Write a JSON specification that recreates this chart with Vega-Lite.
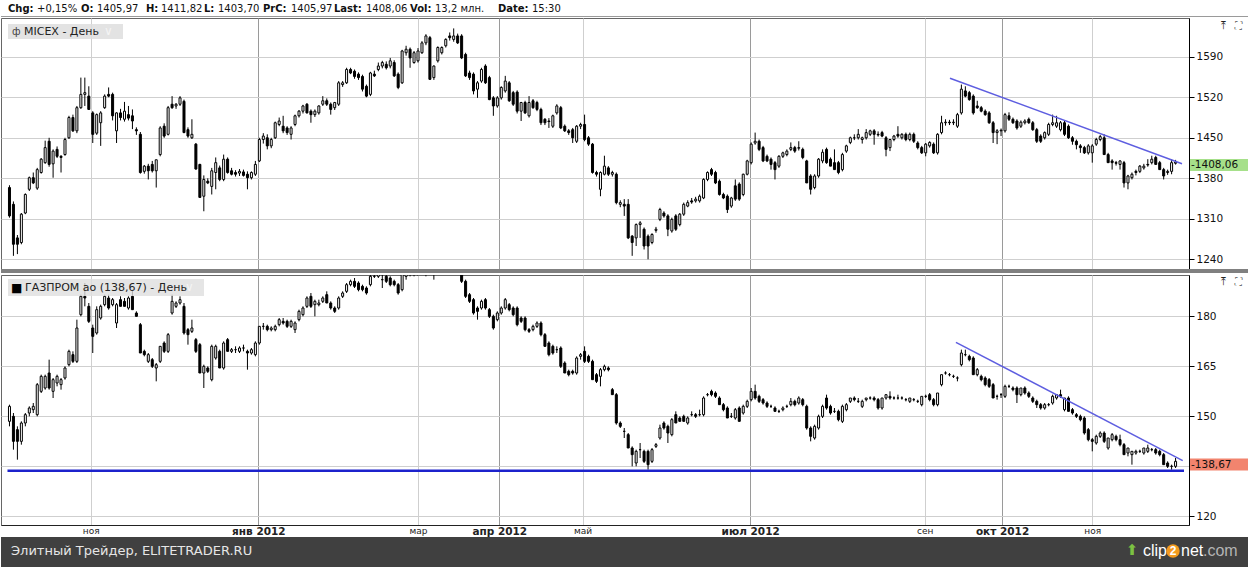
{
"$schema": "https://vega.github.io/schema/vega-lite/v6.json",
"padding": 0,
"spacing": 0,
"background": "#ffffff",
"config": {"font": "DejaVu Sans", "view": {"stroke": "#666666", "strokeWidth": 1}, "concat": {"spacing": 0}},
"datasets": {
"micex": [
{"i":0,"o":1364,"h":1368,"l":1312,"c":1315},{"i":1,"o":1335,"h":1340,"l":1246,"c":1266},{"i":2,"o":1277,"h":1282,"l":1249,"c":1266},{"i":3,"o":1269,"h":1320,"l":1266,"c":1318},{"i":4,"o":1320,"h":1354,"l":1318,"c":1352},{"i":5,"o":1361,"h":1383,"l":1358,"c":1381},{"i":6,"o":1381,"h":1390,"l":1370,"c":1372},{"i":7,"o":1363,"h":1398,"l":1360,"c":1395},{"i":8,"o":1390,"h":1415,"l":1388,"c":1413},{"i":9,"o":1407,"h":1445,"l":1405,"c":1433},
{"i":10,"o":1444,"h":1450,"l":1400,"c":1404},{"i":11,"o":1405,"h":1430,"l":1381,"c":1427},{"i":12,"o":1430,"h":1435,"l":1415,"c":1418},{"i":13,"o":1418,"h":1420,"l":1390,"c":1416},{"i":14,"o":1421,"h":1450,"l":1419,"c":1447},{"i":15,"o":1450,"h":1488,"l":1448,"c":1485},{"i":16,"o":1485,"h":1490,"l":1460,"c":1462},{"i":17,"o":1462,"h":1505,"l":1458,"c":1502},{"i":18,"o":1502,"h":1554,"l":1500,"c":1525},{"i":19,"o":1525,"h":1554,"l":1505,"c":1528},
{"i":20,"o":1522,"h":1539,"l":1498,"c":1499},{"i":21,"o":1493,"h":1496,"l":1441,"c":1456},{"i":22,"o":1458,"h":1492,"l":1455,"c":1490},{"i":23,"o":1476,"h":1496,"l":1436,"c":1493},{"i":24,"o":1502,"h":1525,"l":1500,"c":1522},{"i":25,"o":1525,"h":1537,"l":1520,"c":1522},{"i":26,"o":1525,"h":1528,"l":1480,"c":1488},{"i":27,"o":1462,"h":1494,"l":1441,"c":1493},{"i":28,"o":1493,"h":1500,"l":1480,"c":1485},{"i":29,"o":1482,"h":1512,"l":1478,"c":1496},
{"i":30,"o":1490,"h":1505,"l":1480,"c":1484},{"i":31,"o":1488,"h":1499,"l":1465,"c":1479},{"i":32,"o":1464,"h":1468,"l":1455,"c":1462},{"i":33,"o":1456,"h":1460,"l":1388,"c":1390},{"i":34,"o":1392,"h":1403,"l":1388,"c":1401},{"i":35,"o":1401,"h":1405,"l":1378,"c":1393},{"i":36,"o":1404,"h":1410,"l":1390,"c":1393},{"i":37,"o":1393,"h":1412,"l":1364,"c":1412},{"i":38,"o":1421,"h":1470,"l":1418,"c":1467},{"i":39,"o":1470,"h":1475,"l":1450,"c":1453},
{"i":40,"o":1456,"h":1505,"l":1454,"c":1502},{"i":41,"o":1508,"h":1522,"l":1500,"c":1502},{"i":42,"o":1505,"h":1510,"l":1500,"c":1508},{"i":43,"o":1508,"h":1522,"l":1505,"c":1519},{"i":44,"o":1513,"h":1516,"l":1458,"c":1459},{"i":45,"o":1464,"h":1468,"l":1450,"c":1453},{"i":46,"o":1450,"h":1482,"l":1448,"c":1456},{"i":47,"o":1439,"h":1441,"l":1395,"c":1396},{"i":48,"o":1404,"h":1405,"l":1346,"c":1347},{"i":49,"o":1349,"h":1385,"l":1323,"c":1378},
{"i":50,"o":1375,"h":1380,"l":1370,"c":1372},{"i":51,"o":1366,"h":1398,"l":1352,"c":1393},{"i":52,"o":1390,"h":1416,"l":1361,"c":1407},{"i":53,"o":1398,"h":1402,"l":1375,"c":1378},{"i":54,"o":1378,"h":1421,"l":1375,"c":1413},{"i":55,"o":1413,"h":1416,"l":1388,"c":1390},{"i":56,"o":1393,"h":1398,"l":1385,"c":1387},{"i":57,"o":1390,"h":1394,"l":1383,"c":1387},{"i":58,"o":1389,"h":1396,"l":1384,"c":1392},{"i":59,"o":1391,"h":1395,"l":1383,"c":1385},
{"i":60,"o":1387,"h":1392,"l":1361,"c":1381},{"i":61,"o":1381,"h":1392,"l":1378,"c":1390},{"i":62,"o":1387,"h":1410,"l":1384,"c":1404},{"i":63,"o":1410,"h":1450,"l":1408,"c":1447},{"i":64,"o":1447,"h":1458,"l":1440,"c":1453},{"i":65,"o":1450,"h":1456,"l":1430,"c":1436},{"i":66,"o":1436,"h":1450,"l":1432,"c":1447},{"i":67,"o":1450,"h":1478,"l":1448,"c":1476},{"i":68,"o":1473,"h":1485,"l":1470,"c":1479},{"i":69,"o":1470,"h":1488,"l":1458,"c":1462},
{"i":70,"o":1467,"h":1470,"l":1455,"c":1459},{"i":71,"o":1456,"h":1470,"l":1447,"c":1467},{"i":72,"o":1473,"h":1490,"l":1470,"c":1488},{"i":73,"o":1488,"h":1498,"l":1485,"c":1496},{"i":74,"o":1496,"h":1507,"l":1492,"c":1505},{"i":75,"o":1508,"h":1510,"l":1492,"c":1493},{"i":76,"o":1496,"h":1499,"l":1476,"c":1490},{"i":77,"o":1490,"h":1499,"l":1486,"c":1496},{"i":78,"o":1493,"h":1506,"l":1490,"c":1505},{"i":79,"o":1508,"h":1522,"l":1505,"c":1514},
{"i":80,"o":1514,"h":1518,"l":1505,"c":1508},{"i":81,"o":1508,"h":1511,"l":1490,"c":1499},{"i":82,"o":1502,"h":1512,"l":1498,"c":1511},{"i":83,"o":1508,"h":1548,"l":1505,"c":1545},{"i":84,"o":1542,"h":1548,"l":1538,"c":1545},{"i":85,"o":1545,"h":1571,"l":1543,"c":1568},{"i":86,"o":1568,"h":1571,"l":1560,"c":1562},{"i":87,"o":1565,"h":1568,"l":1552,"c":1556},{"i":88,"o":1560,"h":1563,"l":1550,"c":1554},{"i":89,"o":1556,"h":1559,"l":1530,"c":1534},
{"i":90,"o":1539,"h":1542,"l":1520,"c":1522},{"i":91,"o":1525,"h":1564,"l":1522,"c":1562},{"i":92,"o":1560,"h":1566,"l":1555,"c":1557},{"i":93,"o":1568,"h":1580,"l":1565,"c":1574},{"i":94,"o":1574,"h":1583,"l":1570,"c":1580},{"i":95,"o":1577,"h":1582,"l":1568,"c":1571},{"i":96,"o":1574,"h":1588,"l":1570,"c":1583},{"i":97,"o":1580,"h":1584,"l":1555,"c":1557},{"i":98,"o":1560,"h":1563,"l":1534,"c":1537},{"i":99,"o":1545,"h":1602,"l":1543,"c":1600},
{"i":100,"o":1597,"h":1609,"l":1592,"c":1603},{"i":101,"o":1603,"h":1606,"l":1571,"c":1588},{"i":102,"o":1580,"h":1600,"l":1578,"c":1597},{"i":103,"o":1583,"h":1605,"l":1580,"c":1600},{"i":104,"o":1597,"h":1617,"l":1595,"c":1614},{"i":105,"o":1614,"h":1629,"l":1610,"c":1626},{"i":106,"o":1623,"h":1626,"l":1550,"c":1551},{"i":107,"o":1554,"h":1575,"l":1550,"c":1574},{"i":108,"o":1583,"h":1608,"l":1580,"c":1606},{"i":109,"o":1597,"h":1608,"l":1594,"c":1606},
{"i":110,"o":1609,"h":1622,"l":1606,"c":1620},{"i":111,"o":1626,"h":1632,"l":1618,"c":1623},{"i":112,"o":1620,"h":1639,"l":1616,"c":1626},{"i":113,"o":1626,"h":1630,"l":1612,"c":1614},{"i":114,"o":1626,"h":1629,"l":1586,"c":1588},{"i":115,"o":1594,"h":1597,"l":1555,"c":1557},{"i":116,"o":1562,"h":1566,"l":1550,"c":1554},{"i":117,"o":1560,"h":1563,"l":1525,"c":1531},{"i":118,"o":1534,"h":1548,"l":1519,"c":1545},{"i":119,"o":1548,"h":1571,"l":1545,"c":1568},
{"i":120,"o":1574,"h":1577,"l":1543,"c":1545},{"i":121,"o":1554,"h":1557,"l":1515,"c":1516},{"i":122,"o":1519,"h":1522,"l":1488,"c":1505},{"i":123,"o":1505,"h":1522,"l":1502,"c":1519},{"i":124,"o":1519,"h":1539,"l":1516,"c":1537},{"i":125,"o":1531,"h":1557,"l":1528,"c":1548},{"i":126,"o":1545,"h":1548,"l":1512,"c":1514},{"i":127,"o":1528,"h":1531,"l":1505,"c":1508},{"i":128,"o":1529,"h":1532,"l":1492,"c":1496},{"i":129,"o":1496,"h":1512,"l":1479,"c":1511},
{"i":130,"o":1511,"h":1514,"l":1491,"c":1493},{"i":131,"o":1488,"h":1522,"l":1485,"c":1511},{"i":132,"o":1514,"h":1517,"l":1500,"c":1502},{"i":133,"o":1511,"h":1514,"l":1496,"c":1499},{"i":134,"o":1499,"h":1502,"l":1472,"c":1476},{"i":135,"o":1482,"h":1484,"l":1472,"c":1476},{"i":136,"o":1479,"h":1484,"l":1467,"c":1478},{"i":137,"o":1470,"h":1490,"l":1467,"c":1488},{"i":138,"o":1493,"h":1508,"l":1490,"c":1505},{"i":139,"o":1502,"h":1505,"l":1465,"c":1467},
{"i":140,"o":1470,"h":1473,"l":1460,"c":1462},{"i":141,"o":1462,"h":1465,"l":1455,"c":1459},{"i":142,"o":1464,"h":1467,"l":1441,"c":1450},{"i":143,"o":1444,"h":1472,"l":1441,"c":1470},{"i":144,"o":1470,"h":1476,"l":1465,"c":1473},{"i":145,"o":1473,"h":1490,"l":1444,"c":1447},{"i":146,"o":1450,"h":1453,"l":1436,"c":1439},{"i":147,"o":1439,"h":1441,"l":1388,"c":1390},{"i":148,"o":1390,"h":1393,"l":1383,"c":1387},{"i":149,"o":1361,"h":1392,"l":1349,"c":1390},
{"i":150,"o":1387,"h":1419,"l":1385,"c":1401},{"i":151,"o":1398,"h":1401,"l":1384,"c":1387},{"i":152,"o":1387,"h":1393,"l":1383,"c":1390},{"i":153,"o":1387,"h":1390,"l":1335,"c":1338},{"i":154,"o":1335,"h":1342,"l":1330,"c":1338},{"i":155,"o":1335,"h":1344,"l":1315,"c":1332},{"i":156,"o":1335,"h":1344,"l":1275,"c":1277},{"i":157,"o":1280,"h":1282,"l":1246,"c":1269},{"i":158,"o":1277,"h":1302,"l":1263,"c":1300},{"i":159,"o":1300,"h":1306,"l":1277,"c":1303},
{"i":160,"o":1292,"h":1295,"l":1257,"c":1263},{"i":161,"o":1280,"h":1283,"l":1240,"c":1263},{"i":162,"o":1269,"h":1285,"l":1266,"c":1283},{"i":163,"o":1290,"h":1296,"l":1286,"c":1292},{"i":164,"o":1309,"h":1329,"l":1306,"c":1326},{"i":165,"o":1320,"h":1323,"l":1312,"c":1315},{"i":166,"o":1315,"h":1318,"l":1280,"c":1292},{"i":167,"o":1289,"h":1312,"l":1286,"c":1309},{"i":168,"o":1315,"h":1318,"l":1289,"c":1292},{"i":169,"o":1300,"h":1320,"l":1297,"c":1318},
{"i":170,"o":1318,"h":1338,"l":1315,"c":1335},{"i":171,"o":1332,"h":1342,"l":1330,"c":1338},{"i":172,"o":1341,"h":1346,"l":1336,"c":1339},{"i":173,"o":1341,"h":1348,"l":1338,"c":1344},{"i":174,"o":1341,"h":1352,"l":1338,"c":1349},{"i":175,"o":1346,"h":1380,"l":1344,"c":1378},{"i":176,"o":1378,"h":1392,"l":1375,"c":1390},{"i":177,"o":1395,"h":1398,"l":1384,"c":1387},{"i":178,"o":1390,"h":1393,"l":1370,"c":1372},{"i":179,"o":1375,"h":1378,"l":1350,"c":1352},
{"i":180,"o":1352,"h":1355,"l":1344,"c":1346},{"i":181,"o":1349,"h":1352,"l":1320,"c":1326},{"i":182,"o":1332,"h":1348,"l":1329,"c":1346},{"i":183,"o":1367,"h":1378,"l":1341,"c":1344},{"i":184,"o":1370,"h":1373,"l":1341,"c":1344},{"i":185,"o":1352,"h":1388,"l":1349,"c":1387},{"i":186,"o":1387,"h":1412,"l":1385,"c":1410},{"i":187,"o":1407,"h":1442,"l":1404,"c":1439},{"i":188,"o":1441,"h":1459,"l":1438,"c":1444},{"i":189,"o":1444,"h":1447,"l":1427,"c":1430},
{"i":190,"o":1433,"h":1436,"l":1408,"c":1410},{"i":191,"o":1418,"h":1421,"l":1408,"c":1410},{"i":192,"o":1413,"h":1416,"l":1395,"c":1404},{"i":193,"o":1407,"h":1410,"l":1378,"c":1395},{"i":194,"o":1401,"h":1420,"l":1398,"c":1418},{"i":195,"o":1418,"h":1426,"l":1415,"c":1424},{"i":196,"o":1421,"h":1430,"l":1418,"c":1427},{"i":197,"o":1430,"h":1442,"l":1427,"c":1433},{"i":198,"o":1433,"h":1436,"l":1424,"c":1427},{"i":199,"o":1432,"h":1444,"l":1428,"c":1433},
{"i":200,"o":1430,"h":1433,"l":1413,"c":1416},{"i":201,"o":1410,"h":1412,"l":1372,"c":1372},{"i":202,"o":1384,"h":1387,"l":1352,"c":1361},{"i":203,"o":1364,"h":1387,"l":1361,"c":1384},{"i":204,"o":1384,"h":1415,"l":1381,"c":1413},{"i":205,"o":1410,"h":1430,"l":1406,"c":1425},{"i":206,"o":1430,"h":1433,"l":1405,"c":1407},{"i":207,"o":1413,"h":1416,"l":1401,"c":1401},{"i":208,"o":1407,"h":1430,"l":1395,"c":1395},{"i":209,"o":1407,"h":1410,"l":1387,"c":1390},
{"i":210,"o":1395,"h":1424,"l":1392,"c":1421},{"i":211,"o":1427,"h":1438,"l":1424,"c":1436},{"i":212,"o":1442,"h":1452,"l":1439,"c":1450},{"i":213,"o":1450,"h":1456,"l":1446,"c":1450},{"i":214,"o":1450,"h":1465,"l":1447,"c":1456},{"i":215,"o":1447,"h":1452,"l":1440,"c":1450},{"i":216,"o":1450,"h":1465,"l":1447,"c":1459},{"i":217,"o":1456,"h":1464,"l":1453,"c":1462},{"i":218,"o":1462,"h":1465,"l":1438,"c":1456},{"i":219,"o":1456,"h":1461,"l":1452,"c":1455},
{"i":220,"o":1459,"h":1462,"l":1451,"c":1453},{"i":221,"o":1450,"h":1453,"l":1418,"c":1430},{"i":222,"o":1433,"h":1448,"l":1427,"c":1447},{"i":223,"o":1447,"h":1455,"l":1444,"c":1453},{"i":224,"o":1456,"h":1470,"l":1450,"c":1453},{"i":225,"o":1450,"h":1458,"l":1447,"c":1456},{"i":226,"o":1456,"h":1459,"l":1444,"c":1447},{"i":227,"o":1447,"h":1459,"l":1444,"c":1456},{"i":228,"o":1456,"h":1459,"l":1441,"c":1444},{"i":229,"o":1441,"h":1444,"l":1430,"c":1433},
{"i":230,"o":1433,"h":1436,"l":1422,"c":1424},{"i":231,"o":1424,"h":1441,"l":1418,"c":1439},{"i":232,"o":1436,"h":1444,"l":1433,"c":1442},{"i":233,"o":1439,"h":1442,"l":1422,"c":1424},{"i":234,"o":1424,"h":1458,"l":1421,"c":1456},{"i":235,"o":1459,"h":1488,"l":1456,"c":1476},{"i":236,"o":1476,"h":1482,"l":1471,"c":1477},{"i":237,"o":1477,"h":1481,"l":1472,"c":1476},{"i":238,"o":1476,"h":1482,"l":1472,"c":1477},{"i":239,"o":1470,"h":1493,"l":1467,"c":1490},
{"i":240,"o":1493,"h":1542,"l":1490,"c":1534},{"i":241,"o":1531,"h":1539,"l":1520,"c":1522},{"i":242,"o":1528,"h":1531,"l":1514,"c":1516},{"i":243,"o":1522,"h":1525,"l":1490,"c":1493},{"i":244,"o":1505,"h":1514,"l":1500,"c":1502},{"i":245,"o":1502,"h":1505,"l":1494,"c":1496},{"i":246,"o":1496,"h":1499,"l":1488,"c":1490},{"i":247,"o":1493,"h":1496,"l":1474,"c":1476},{"i":248,"o":1476,"h":1479,"l":1441,"c":1459},{"i":249,"o":1459,"h":1465,"l":1439,"c":1462},
{"i":250,"o":1462,"h":1466,"l":1453,"c":1463},{"i":251,"o":1462,"h":1493,"l":1459,"c":1490},{"i":252,"o":1488,"h":1494,"l":1479,"c":1482},{"i":253,"o":1482,"h":1485,"l":1474,"c":1476},{"i":254,"o":1479,"h":1482,"l":1464,"c":1467},{"i":255,"o":1470,"h":1480,"l":1467,"c":1477},{"i":256,"o":1476,"h":1482,"l":1473,"c":1479},{"i":257,"o":1482,"h":1485,"l":1474,"c":1476},{"i":258,"o":1476,"h":1479,"l":1462,"c":1464},{"i":259,"o":1464,"h":1467,"l":1441,"c":1444},
{"i":260,"o":1453,"h":1456,"l":1441,"c":1444},{"i":261,"o":1450,"h":1461,"l":1447,"c":1459},{"i":262,"o":1456,"h":1476,"l":1453,"c":1473},{"i":263,"o":1473,"h":1490,"l":1470,"c":1476},{"i":264,"o":1470,"h":1488,"l":1467,"c":1476},{"i":265,"o":1464,"h":1479,"l":1461,"c":1476},{"i":266,"o":1476,"h":1479,"l":1453,"c":1456},{"i":267,"o":1470,"h":1473,"l":1448,"c":1450},{"i":268,"o":1450,"h":1453,"l":1438,"c":1444},{"i":269,"o":1444,"h":1447,"l":1430,"c":1438},
{"i":270,"o":1436,"h":1439,"l":1424,"c":1433},{"i":271,"o":1433,"h":1436,"l":1422,"c":1424},{"i":272,"o":1424,"h":1439,"l":1421,"c":1436},{"i":273,"o":1424,"h":1439,"l":1407,"c":1436},{"i":274,"o":1439,"h":1450,"l":1436,"c":1447},{"i":275,"o":1447,"h":1455,"l":1444,"c":1452},{"i":276,"o":1450,"h":1456,"l":1421,"c":1421},{"i":277,"o":1421,"h":1424,"l":1407,"c":1407},{"i":278,"o":1410,"h":1413,"l":1395,"c":1407},{"i":279,"o":1407,"h":1410,"l":1402,"c":1406},
{"i":280,"o":1404,"h":1411,"l":1395,"c":1410},{"i":281,"o":1407,"h":1410,"l":1364,"c":1372},{"i":282,"o":1372,"h":1386,"l":1361,"c":1384},{"i":283,"o":1381,"h":1390,"l":1378,"c":1387},{"i":284,"o":1392,"h":1395,"l":1385,"c":1390},{"i":285,"o":1392,"h":1403,"l":1389,"c":1401},{"i":286,"o":1398,"h":1405,"l":1395,"c":1401},{"i":287,"o":1404,"h":1413,"l":1400,"c":1403},{"i":288,"o":1407,"h":1419,"l":1404,"c":1413},{"i":289,"o":1416,"h":1419,"l":1404,"c":1404},
{"i":290,"o":1407,"h":1410,"l":1395,"c":1395},{"i":291,"o":1395,"h":1398,"l":1378,"c":1384},{"i":292,"o":1390,"h":1395,"l":1386,"c":1392},{"i":293,"o":1392,"h":1413,"l":1387,"c":1407},{"i":294,"o":1405.97,"h":1411.82,"l":1403.7,"c":1408.06}
],
"gazp": [
{"i":0,"o":148.5,"h":153.5,"l":147,"c":153},{"i":1,"o":150,"h":151,"l":140,"c":142.5},{"i":2,"o":146,"h":147,"l":137,"c":142.5},{"i":3,"o":142.5,"h":148.5,"l":141.5,"c":148},{"i":4,"o":148,"h":151,"l":147,"c":150.5},{"i":5,"o":151,"h":153,"l":150,"c":152.5},{"i":6,"o":152,"h":154,"l":151,"c":153},{"i":7,"o":150.5,"h":160,"l":150,"c":159.5},{"i":8,"o":157.5,"h":162.5,"l":157,"c":162},{"i":9,"o":158.5,"h":162.5,"l":158,"c":162},
{"i":10,"o":163,"h":167,"l":158,"c":158.5},{"i":11,"o":157.5,"h":161.5,"l":155.5,"c":161},{"i":12,"o":160,"h":162.5,"l":159,"c":162},{"i":13,"o":159.5,"h":161.5,"l":158,"c":161},{"i":14,"o":161.5,"h":165,"l":161,"c":164.5},{"i":15,"o":165.5,"h":170,"l":165,"c":169.5},{"i":16,"o":168.5,"h":169.5,"l":166,"c":166.5},{"i":17,"o":166.5,"h":179,"l":166,"c":176.5},{"i":18,"o":180.5,"h":186.5,"l":180,"c":186},{"i":19,"o":186,"h":190,"l":183,"c":185.5},
{"i":20,"o":183,"h":184,"l":178,"c":178.5},{"i":21,"o":176.5,"h":177.5,"l":169,"c":174},{"i":22,"o":175,"h":183,"l":174.5,"c":182},{"i":23,"o":179.5,"h":183.5,"l":179,"c":183},{"i":24,"o":183.5,"h":186.5,"l":183,"c":186},{"i":25,"o":185.5,"h":186.5,"l":182,"c":182.5},{"i":26,"o":183.5,"h":185.5,"l":183,"c":185},{"i":27,"o":178,"h":184,"l":176.5,"c":183.5},{"i":28,"o":185,"h":186,"l":183,"c":183},{"i":29,"o":184.5,"h":185.5,"l":183,"c":183},
{"i":30,"o":182.5,"h":186,"l":182,"c":185.5},{"i":31,"o":186,"h":188,"l":182,"c":182},{"i":32,"o":181,"h":181.5,"l":180,"c":180},{"i":33,"o":177.5,"h":178,"l":169,"c":169},{"i":34,"o":169.5,"h":170,"l":168,"c":168.5},{"i":35,"o":166.5,"h":169,"l":166,"c":168.5},{"i":36,"o":167,"h":167.5,"l":164.5,"c":165},{"i":37,"o":164.5,"h":166,"l":160.5,"c":165.5},{"i":38,"o":166.5,"h":171,"l":166,"c":171},{"i":39,"o":172,"h":172.5,"l":169,"c":169.5},
{"i":40,"o":169.5,"h":175,"l":169,"c":174.5},{"i":41,"o":181,"h":186.5,"l":180.5,"c":184.5},{"i":42,"o":183,"h":184.5,"l":182.5,"c":184},{"i":43,"o":184,"h":186,"l":183.5,"c":185},{"i":44,"o":183,"h":184,"l":174.5,"c":175},{"i":45,"o":176,"h":176.5,"l":171.5,"c":174.5},{"i":46,"o":175.5,"h":179,"l":175,"c":176.5},{"i":47,"o":173,"h":173.5,"l":169,"c":169.5},{"i":48,"o":171.5,"h":172,"l":163,"c":163},{"i":49,"o":163,"h":165.5,"l":158.5,"c":165},
{"i":50,"o":164.5,"h":165,"l":163,"c":163.5},{"i":51,"o":161,"h":171.5,"l":160.5,"c":171},{"i":52,"o":167.5,"h":171.5,"l":167,"c":171},{"i":53,"o":169.5,"h":170,"l":164.5,"c":164.5},{"i":54,"o":164.5,"h":172.5,"l":164,"c":172},{"i":55,"o":173,"h":173.5,"l":169.5,"c":169.5},{"i":56,"o":169.5,"h":170.5,"l":169,"c":170},{"i":57,"o":170,"h":171,"l":169,"c":170},{"i":58,"o":169.5,"h":171,"l":169,"c":170.5},{"i":59,"o":170.5,"h":171.5,"l":169.5,"c":170.5},
{"i":60,"o":169.5,"h":170,"l":164,"c":169},{"i":61,"o":169,"h":170.5,"l":168.5,"c":170},{"i":62,"o":168.5,"h":172.5,"l":168,"c":172},{"i":63,"o":172,"h":177,"l":171.5,"c":177},{"i":64,"o":177,"h":178,"l":176,"c":177},{"i":65,"o":177,"h":177.5,"l":175.5,"c":176},{"i":66,"o":176,"h":177,"l":175.5,"c":176.5},{"i":67,"o":176,"h":177.5,"l":175.5,"c":177},{"i":68,"o":177.5,"h":179.5,"l":177,"c":179},{"i":69,"o":178.5,"h":179.5,"l":177.5,"c":178},
{"i":70,"o":178.5,"h":179,"l":176.5,"c":177},{"i":71,"o":177,"h":179,"l":176.5,"c":178.5},{"i":72,"o":176,"h":178.5,"l":175,"c":178},{"i":73,"o":179,"h":182,"l":178.5,"c":181.5},{"i":74,"o":180.5,"h":183,"l":180,"c":182.5},{"i":75,"o":183,"h":186,"l":182.5,"c":185.5},{"i":76,"o":186,"h":187,"l":182.5,"c":183},{"i":77,"o":183.5,"h":185,"l":180,"c":184.5},{"i":78,"o":183.5,"h":185,"l":183,"c":184},{"i":79,"o":184.5,"h":186,"l":184,"c":185.5},
{"i":80,"o":186.5,"h":187.5,"l":184,"c":184},{"i":81,"o":184,"h":184.5,"l":182,"c":182.5},{"i":82,"o":182.5,"h":183,"l":181,"c":181.5},{"i":83,"o":182.5,"h":186,"l":182,"c":185.5},{"i":84,"o":186,"h":187.5,"l":185.5,"c":187},{"i":85,"o":187.5,"h":190,"l":187,"c":189.5},{"i":86,"o":189.5,"h":191,"l":189,"c":190.5},{"i":87,"o":190.5,"h":191.5,"l":188.5,"c":189},{"i":88,"o":190,"h":190.5,"l":187.5,"c":188},{"i":89,"o":189,"h":189.5,"l":187.5,"c":188},
{"i":90,"o":188.5,"h":189,"l":186.5,"c":187},{"i":91,"o":189.5,"h":192.5,"l":189,"c":192},{"i":92,"o":192,"h":193,"l":191.5,"c":192},{"i":93,"o":192,"h":193,"l":191.5,"c":192.5},{"i":94,"o":191,"h":192.5,"l":188.5,"c":191},{"i":95,"o":192,"h":193,"l":190,"c":190.5},{"i":96,"o":191.5,"h":192,"l":189,"c":189.5},{"i":97,"o":190.5,"h":191,"l":189,"c":189.5},{"i":98,"o":189.5,"h":190,"l":186.5,"c":187},{"i":99,"o":188,"h":193,"l":187.5,"c":192.5},
{"i":100,"o":192,"h":195,"l":191,"c":193},{"i":101,"o":193,"h":196,"l":192,"c":194},{"i":102,"o":194,"h":197,"l":192,"c":195},{"i":103,"o":195,"h":198,"l":192.2,"c":196},{"i":104,"o":196,"h":199,"l":194,"c":198},{"i":105,"o":198,"h":201,"l":192,"c":199},{"i":106,"o":199,"h":200,"l":193,"c":194},{"i":107,"o":194,"h":196,"l":191,"c":195},{"i":108,"o":195,"h":199,"l":194,"c":198},{"i":109,"o":198,"h":200,"l":196,"c":199},
{"i":110,"o":199,"h":202,"l":197,"c":201},{"i":111,"o":201,"h":203,"l":199,"c":200},{"i":112,"o":200,"h":203,"l":198,"c":202},{"i":113,"o":202,"h":203,"l":197,"c":198},{"i":114,"o":195,"h":197,"l":190,"c":190.5},{"i":115,"o":190.5,"h":191,"l":185.5,"c":186},{"i":116,"o":186.5,"h":187,"l":184,"c":184.5},{"i":117,"o":185,"h":185.5,"l":180.5,"c":181},{"i":118,"o":182.5,"h":183,"l":179,"c":181.5},{"i":119,"o":182.5,"h":185,"l":182,"c":184.5},
{"i":120,"o":185,"h":185.5,"l":182,"c":182.5},{"i":121,"o":182,"h":182.5,"l":179.5,"c":180},{"i":122,"o":180,"h":180.5,"l":176,"c":176.5},{"i":123,"o":179,"h":181.5,"l":178.5,"c":181},{"i":124,"o":181,"h":183,"l":180.5,"c":182.5},{"i":125,"o":182.5,"h":185.5,"l":182,"c":185},{"i":126,"o":183.5,"h":184,"l":181.5,"c":182},{"i":127,"o":182.5,"h":183,"l":180,"c":180.5},{"i":128,"o":182.5,"h":183,"l":177,"c":177.5},{"i":129,"o":179.5,"h":180,"l":178,"c":178.5},
{"i":130,"o":179.5,"h":180,"l":175.5,"c":176},{"i":131,"o":176,"h":176.5,"l":175,"c":175.5},{"i":132,"o":176,"h":177.5,"l":175.5,"c":177},{"i":133,"o":177,"h":178.5,"l":176.5,"c":178},{"i":134,"o":178,"h":178.5,"l":174,"c":174.5},{"i":135,"o":174.5,"h":175,"l":171,"c":171},{"i":136,"o":172,"h":172.5,"l":168,"c":168.5},{"i":137,"o":171,"h":171.5,"l":168.5,"c":169},{"i":138,"o":170,"h":171,"l":169,"c":170},{"i":139,"o":170.5,"h":171,"l":164.5,"c":165},
{"i":140,"o":166,"h":166.5,"l":163,"c":163},{"i":141,"o":163.5,"h":164,"l":162,"c":162.5},{"i":142,"o":163.5,"h":164,"l":162.5,"c":163},{"i":143,"o":163,"h":168,"l":162.5,"c":167.5},{"i":144,"o":168,"h":169,"l":167,"c":168.5},{"i":145,"o":169.5,"h":171,"l":166,"c":166.5},{"i":146,"o":168,"h":168.5,"l":166,"c":166.5},{"i":147,"o":166.5,"h":167,"l":161,"c":161},{"i":148,"o":162.5,"h":163,"l":160,"c":160.5},{"i":149,"o":162,"h":164.5,"l":159,"c":164},
{"i":150,"o":164,"h":165.5,"l":163.5,"c":165},{"i":151,"o":164.5,"h":165,"l":163.5,"c":164},{"i":152,"o":158,"h":158.5,"l":156.5,"c":156.5},{"i":153,"o":156.5,"h":157,"l":147.5,"c":148},{"i":154,"o":148,"h":148.5,"l":146.5,"c":147},{"i":155,"o":145.5,"h":146.5,"l":143.5,"c":145.5},{"i":156,"o":144.5,"h":145,"l":140.5,"c":140.5},{"i":157,"o":140.5,"h":141,"l":135,"c":138.5},{"i":158,"o":136,"h":140,"l":135,"c":139.5},{"i":159,"o":140,"h":142,"l":137.5,"c":140},
{"i":160,"o":139.5,"h":140,"l":136,"c":136.5},{"i":161,"o":139.5,"h":140,"l":134,"c":135.5},{"i":162,"o":136.5,"h":140.5,"l":136,"c":140},{"i":163,"o":141,"h":142,"l":140.5,"c":141.5},{"i":164,"o":143.5,"h":147.5,"l":143,"c":146.5},{"i":165,"o":148,"h":148.5,"l":146,"c":146.5},{"i":166,"o":147,"h":147.5,"l":142,"c":145},{"i":167,"o":144.5,"h":149.5,"l":144,"c":149},{"i":168,"o":150.5,"h":151.5,"l":148,"c":148},{"i":169,"o":149.5,"h":150,"l":148.5,"c":148.5},
{"i":170,"o":150,"h":150.5,"l":148.5,"c":148.5},{"i":171,"o":148,"h":150,"l":147.5,"c":149.5},{"i":172,"o":150.5,"h":151.5,"l":150,"c":150.5},{"i":173,"o":150.5,"h":151,"l":149.5,"c":150},{"i":174,"o":150.5,"h":152,"l":150,"c":150.5},{"i":175,"o":150.5,"h":156,"l":150,"c":155.5},{"i":176,"o":156.5,"h":157,"l":156,"c":156.5},{"i":177,"o":157.5,"h":158,"l":156,"c":156.5},{"i":178,"o":157,"h":157.5,"l":155.5,"c":156},{"i":179,"o":155.5,"h":156,"l":153.5,"c":153.5},
{"i":180,"o":153.5,"h":154,"l":151.5,"c":152},{"i":181,"o":152.5,"h":153,"l":149.5,"c":149.5},{"i":182,"o":150,"h":151,"l":149.5,"c":150},{"i":183,"o":149.5,"h":152.5,"l":149,"c":152},{"i":184,"o":152.5,"h":153,"l":148.5,"c":148.5},{"i":185,"o":151,"h":153.5,"l":150.5,"c":153},{"i":186,"o":153,"h":155,"l":152.5,"c":154.5},{"i":187,"o":155,"h":158.5,"l":154.5,"c":157.5},{"i":188,"o":157.5,"h":159.5,"l":155,"c":155.5},{"i":189,"o":156,"h":156.5,"l":154,"c":154.5},
{"i":190,"o":155,"h":155.5,"l":153.5,"c":154},{"i":191,"o":154,"h":154.5,"l":152.5,"c":153},{"i":192,"o":153,"h":153.5,"l":152.5,"c":153},{"i":193,"o":152.5,"h":153,"l":151.5,"c":151.5},{"i":194,"o":151.5,"h":152,"l":151,"c":151.5},{"i":195,"o":152,"h":153,"l":151.5,"c":152.5},{"i":196,"o":153,"h":153.5,"l":152.5,"c":153},{"i":197,"o":153.5,"h":155.5,"l":153,"c":154.5},{"i":198,"o":154.5,"h":155,"l":153,"c":153.5},{"i":199,"o":154,"h":156,"l":153.5,"c":155.5},
{"i":200,"o":155,"h":155.5,"l":153,"c":153.5},{"i":201,"o":153,"h":153.5,"l":146,"c":146.5},{"i":202,"o":146.5,"h":147,"l":142.5,"c":144},{"i":203,"o":143.5,"h":147.5,"l":143,"c":147},{"i":204,"o":146.5,"h":150.5,"l":146,"c":150},{"i":205,"o":150,"h":153.5,"l":149.5,"c":153},{"i":206,"o":155.5,"h":156.5,"l":152,"c":152.5},{"i":207,"o":153,"h":153.5,"l":150.5,"c":151},{"i":208,"o":151.5,"h":152.5,"l":151,"c":151.5},{"i":209,"o":151.5,"h":152,"l":148.5,"c":149},
{"i":210,"o":148.5,"h":153.5,"l":148,"c":153},{"i":211,"o":152,"h":154,"l":151.5,"c":153.5},{"i":212,"o":154.5,"h":155.5,"l":154,"c":155.5},{"i":213,"o":155.5,"h":156,"l":154.5,"c":155},{"i":214,"o":154.5,"h":155.5,"l":154,"c":154.5},{"i":215,"o":153,"h":155,"l":152.5,"c":154.5},{"i":216,"o":155,"h":155.5,"l":154.5,"c":155.5},{"i":217,"o":155.5,"h":156,"l":155,"c":155.5},{"i":218,"o":155.5,"h":156,"l":154.5,"c":155},{"i":219,"o":155,"h":155.5,"l":152,"c":152.5},
{"i":220,"o":152.5,"h":155.5,"l":152,"c":155.5},{"i":221,"o":155.5,"h":156.5,"l":155,"c":156.5},{"i":222,"o":156,"h":157.5,"l":155,"c":155.5},{"i":223,"o":155.5,"h":156,"l":155,"c":155.5},{"i":224,"o":155.5,"h":156.5,"l":155,"c":155.5},{"i":225,"o":155.5,"h":156,"l":155,"c":155.5},{"i":226,"o":155,"h":155.5,"l":154.5,"c":155},{"i":227,"o":154.5,"h":155.5,"l":154,"c":155.5},{"i":228,"o":155,"h":155.5,"l":154.5,"c":155},{"i":229,"o":154.5,"h":155,"l":154,"c":154.5},
{"i":230,"o":153.5,"h":156,"l":153,"c":156},{"i":231,"o":156,"h":156.5,"l":155.5,"c":156},{"i":232,"o":156.5,"h":157,"l":154.5,"c":155},{"i":233,"o":155,"h":155.5,"l":153,"c":153.5},{"i":234,"o":153.5,"h":157,"l":153,"c":157},{"i":235,"o":159.5,"h":162.5,"l":159,"c":162.5},{"i":236,"o":163,"h":163.5,"l":162.5,"c":163},{"i":237,"o":162.5,"h":163,"l":162,"c":162.5},{"i":238,"o":162,"h":162.5,"l":161.5,"c":162},{"i":239,"o":161.5,"h":162,"l":160.5,"c":161.5},
{"i":240,"o":165.5,"h":170,"l":165,"c":169},{"i":241,"o":168.5,"h":170,"l":168,"c":168.5},{"i":242,"o":168,"h":168.5,"l":166.5,"c":167},{"i":243,"o":167.5,"h":168,"l":162.5,"c":162.5},{"i":244,"o":162.5,"h":164.5,"l":162,"c":164},{"i":245,"o":162,"h":162.5,"l":160.5,"c":161},{"i":246,"o":161.5,"h":162,"l":159,"c":159.5},{"i":247,"o":161,"h":161.5,"l":158.5,"c":159},{"i":248,"o":159.5,"h":160,"l":155.5,"c":155.5},{"i":249,"o":156,"h":156.5,"l":155,"c":156},
{"i":250,"o":156.5,"h":157,"l":155.5,"c":156.5},{"i":251,"o":156,"h":159.5,"l":155.5,"c":159},{"i":252,"o":159,"h":159.5,"l":158.5,"c":159},{"i":253,"o":158.5,"h":159,"l":157.5,"c":158},{"i":254,"o":158.5,"h":159,"l":154,"c":156.5},{"i":255,"o":156.5,"h":158.5,"l":156,"c":158.5},{"i":256,"o":158.5,"h":159,"l":156.5,"c":157},{"i":257,"o":157,"h":157.5,"l":155.5,"c":156},{"i":258,"o":155.5,"h":156,"l":154,"c":154.5},{"i":259,"o":154.5,"h":155,"l":152.5,"c":153.5},
{"i":260,"o":153.5,"h":154,"l":152,"c":152.5},{"i":261,"o":152.5,"h":154,"l":152,"c":153.5},{"i":262,"o":153.5,"h":154,"l":153,"c":153.5},{"i":263,"o":154,"h":156.5,"l":153.5,"c":156},{"i":264,"o":155.5,"h":156.5,"l":155,"c":156.5},{"i":265,"o":156.5,"h":158,"l":155.5,"c":156},{"i":266,"o":152,"h":155.5,"l":151.5,"c":155.5},{"i":267,"o":155.5,"h":156,"l":151.5,"c":151.5},{"i":268,"o":152,"h":152.5,"l":150.5,"c":151},{"i":269,"o":150.5,"h":151,"l":149.5,"c":150},
{"i":270,"o":150,"h":150.5,"l":148.5,"c":149},{"i":271,"o":149.5,"h":150,"l":144.5,"c":145},{"i":272,"o":146,"h":146.5,"l":142.5,"c":143},{"i":273,"o":143,"h":143.5,"l":139.5,"c":142.5},{"i":274,"o":142,"h":144.5,"l":141.5,"c":144},{"i":275,"o":144,"h":145.5,"l":143.5,"c":145},{"i":276,"o":145,"h":145.5,"l":142,"c":142.5},{"i":277,"o":140.5,"h":143.5,"l":140,"c":143.5},{"i":278,"o":143,"h":145,"l":142.5,"c":144.5},{"i":279,"o":144,"h":144.5,"l":142.5,"c":143},
{"i":280,"o":143,"h":144.5,"l":141,"c":141.5},{"i":281,"o":141.5,"h":142,"l":138.5,"c":138.5},{"i":282,"o":139,"h":140.5,"l":138,"c":140.5},{"i":283,"o":138.5,"h":139.5,"l":135.5,"c":139.5},{"i":284,"o":139,"h":140,"l":138.5,"c":139.5},{"i":285,"o":139.5,"h":140,"l":139,"c":139.5},{"i":286,"o":139,"h":140.5,"l":138.5,"c":140.5},{"i":287,"o":139.5,"h":141.5,"l":139,"c":140.5},{"i":288,"o":140,"h":140.5,"l":139.5,"c":140},{"i":289,"o":140,"h":140.5,"l":138.5,"c":139},
{"i":290,"o":139.5,"h":140,"l":138,"c":138.5},{"i":291,"o":138.5,"h":139,"l":135.5,"c":135.5},{"i":292,"o":136,"h":136.5,"l":134.5,"c":135},{"i":293,"o":135,"h":135.5,"l":134,"c":135},{"i":294,"o":135,"h":137.5,"l":134.5,"c":136.5}
]
},
"vconcat": [
{
"width": 1248, "height": 17,
"view": {"stroke": null},
"data": {"values": [{}]},
"layer": [
{"mark": {"type": "rect", "color": "#9a9a9a"}, "encoding": {"x": {"value": 0}, "x2": {"value": 1248}, "y": {"value": 16}, "y2": {"value": 17}}},
{"mark": {"type": "text", "text": "Chg:", "fontWeight": "bold", "fontSize": 10, "align": "left", "baseline": "middle", "color": "#111"}, "encoding": {"x": {"value": 7}, "y": {"value": 8.5}}},
{"mark": {"type": "text", "text": "+0,15%", "fontSize": 10, "align": "left", "baseline": "middle", "color": "#111"}, "encoding": {"x": {"value": 36}, "y": {"value": 8.5}}},
{"mark": {"type": "text", "text": "O:", "fontWeight": "bold", "fontSize": 10, "align": "left", "baseline": "middle", "color": "#111"}, "encoding": {"x": {"value": 80}, "y": {"value": 8.5}}},
{"mark": {"type": "text", "text": "1405,97", "fontSize": 10, "align": "left", "baseline": "middle", "color": "#111"}, "encoding": {"x": {"value": 96}, "y": {"value": 8.5}}},
{"mark": {"type": "text", "text": "H:", "fontWeight": "bold", "fontSize": 10, "align": "left", "baseline": "middle", "color": "#111"}, "encoding": {"x": {"value": 145}, "y": {"value": 8.5}}},
{"mark": {"type": "text", "text": "1411,82", "fontSize": 10, "align": "left", "baseline": "middle", "color": "#111"}, "encoding": {"x": {"value": 160}, "y": {"value": 8.5}}},
{"mark": {"type": "text", "text": "L:", "fontWeight": "bold", "fontSize": 10, "align": "left", "baseline": "middle", "color": "#111"}, "encoding": {"x": {"value": 203}, "y": {"value": 8.5}}},
{"mark": {"type": "text", "text": "1403,70", "fontSize": 10, "align": "left", "baseline": "middle", "color": "#111"}, "encoding": {"x": {"value": 217}, "y": {"value": 8.5}}},
{"mark": {"type": "text", "text": "PrC:", "fontWeight": "bold", "fontSize": 10, "align": "left", "baseline": "middle", "color": "#111"}, "encoding": {"x": {"value": 262}, "y": {"value": 8.5}}},
{"mark": {"type": "text", "text": "1405,97", "fontSize": 10, "align": "left", "baseline": "middle", "color": "#111"}, "encoding": {"x": {"value": 290}, "y": {"value": 8.5}}},
{"mark": {"type": "text", "text": "Last:", "fontWeight": "bold", "fontSize": 10, "align": "left", "baseline": "middle", "color": "#111"}, "encoding": {"x": {"value": 333}, "y": {"value": 8.5}}},
{"mark": {"type": "text", "text": "1408,06", "fontSize": 10, "align": "left", "baseline": "middle", "color": "#111"}, "encoding": {"x": {"value": 365}, "y": {"value": 8.5}}},
{"mark": {"type": "text", "text": "Vol:", "fontWeight": "bold", "fontSize": 10, "align": "left", "baseline": "middle", "color": "#111"}, "encoding": {"x": {"value": 409}, "y": {"value": 8.5}}},
{"mark": {"type": "text", "text": "13,2 млн.", "fontSize": 10, "align": "left", "baseline": "middle", "color": "#111"}, "encoding": {"x": {"value": 434}, "y": {"value": 8.5}}},
{"mark": {"type": "text", "text": "Date:", "fontWeight": "bold", "fontSize": 10, "align": "left", "baseline": "middle", "color": "#111"}, "encoding": {"x": {"value": 497}, "y": {"value": 8.5}}},
{"mark": {"type": "text", "text": "15:30", "fontSize": 10, "align": "left", "baseline": "middle", "color": "#111"}, "encoding": {"x": {"value": 531}, "y": {"value": 8.5}}}
]
},
{
"width": 1188, "height": 253,
"data": {"name": "micex"},
"layer": [
{"mark": {"type": "rule", "color": "#000", "strokeWidth": 1, "clip": true},
 "encoding": {
  "x": {"field": "i", "type": "quantitative", "scale": {"domain": [-0.875, 296.125], "nice": false, "zero": false},
        "axis": {"title": null, "values": [20.5, 62.75, 103, 123.5, 144.5, 186.75, 230.75, 250.25, 273], "labels": false, "ticks": false, "domain": false, "grid": true,
                 "gridColor": {"condition": {"test": "datum.value==62.75||datum.value==123.5||datum.value==186.75||datum.value==250.25", "value": "#9a9a9a"}, "value": "#cfcfcf"}, "gridWidth": 1}},
  "y": {"field": "l", "type": "quantitative", "scale": {"domain": [1219.8, 1657], "nice": false, "zero": false},
        "axis": {"title": null, "orient": "right", "values": [1240, 1310, 1380, 1450, 1520, 1590], "format": "d", "grid": true, "gridColor": "#cfcfcf", "domainColor": "#000", "tickColor": "#000", "tickSize": 5, "labelPadding": 2, "labelFontSize": 10.5, "labelColor": "#111"}},
  "y2": {"field": "h"}}},
{"mark": {"type": "bar", "size": 2, "stroke": "#000", "strokeWidth": 1, "clip": true},
 "encoding": {
  "x": {"field": "i", "type": "quantitative"},
  "y": {"field": "o", "type": "quantitative"},
  "y2": {"field": "c"},
  "fill": {"condition": {"test": "datum.c < datum.o", "value": "#000"}, "value": "#fff"}}},
{"data": {"values": [{"i": 237.125, "v": 1553}, {"i": 295.625, "v": 1405}]},
 "mark": {"type": "line", "color": "#5e5ee0", "strokeWidth": 1.5},
 "encoding": {"x": {"field": "i", "type": "quantitative"}, "y": {"field": "v", "type": "quantitative"}}},
{"data": {"values": [{}]}, "mark": {"type": "rect", "color": "#808080"}, "encoding": {"x": {"value": 0}, "x2": {"value": 1248}, "y": {"value": 251}, "y2": {"value": 255}}},
{"data": {"values": [{}]}, "mark": {"type": "rect", "color": "#dedede", "opacity": 0.85}, "encoding": {"x": {"value": 7}, "x2": {"value": 122}, "y": {"value": 6}, "y2": {"value": 21}}},
{"data": {"values": [{}]}, "mark": {"type": "text", "text": "ф", "fontSize": 10, "align": "left", "baseline": "middle", "color": "#444"}, "encoding": {"x": {"value": 11}, "y": {"value": 13.5}}},
{"data": {"values": [{}]}, "mark": {"type": "text", "text": "MICEX - День", "fontSize": 11, "align": "left", "baseline": "middle", "color": "#222"}, "encoding": {"x": {"value": 23}, "y": {"value": 13.5}}},
{"data": {"values": [{}]}, "mark": {"type": "text", "text": "∨", "fontSize": 12, "align": "left", "baseline": "middle", "color": "#f4f4f4"}, "encoding": {"x": {"value": 103}, "y": {"value": 13}}},
{"data": {"values": [{"t": "-1408,06", "v": 1403}]},
 "mark": {"type": "point", "shape": "M-1,-0.21H1V0.21H-1Z", "filled": true, "size": 3364, "color": "#a6e08a", "opacity": 1},
 "encoding": {"x": {"value": 1218}, "y": {"field": "v", "type": "quantitative"}}},
{"data": {"values": [{"t": "-1408,06", "v": 1403}]},
 "mark": {"type": "text", "fontSize": 10.5, "align": "left", "baseline": "middle", "color": "#111"},
 "encoding": {"x": {"value": 1190}, "y": {"field": "v", "type": "quantitative"}, "text": {"field": "t"}}},
{"data": {"values": [{}]}, "mark": {"type": "text", "text": "⤒", "fontSize": 11, "align": "center", "baseline": "middle", "color": "#222"}, "encoding": {"x": {"value": 1222}, "y": {"value": 8}}},
{"data": {"values": [{}]}, "mark": {"type": "text", "text": "⛶", "fontSize": 10, "align": "center", "baseline": "middle", "color": "#555"}, "encoding": {"x": {"value": 1237}, "y": {"value": 8}}}
]
},
{
"width": 1188, "height": 250,
"data": {"name": "gazp"},
"layer": [
{"mark": {"type": "rule", "color": "#000", "strokeWidth": 1, "clip": true},
 "encoding": {
  "x": {"field": "i", "type": "quantitative", "scale": {"domain": [-0.875, 296.125], "nice": false, "zero": false},
        "axis": {"title": null, "values": [20.5, 62.75, 103, 123.5, 144.5, 186.75, 230.75, 250.25, 273], "ticks": false, "domain": true, "domainColor": "#222", "grid": true,
                 "gridColor": {"condition": {"test": "datum.value==62.75||datum.value==123.5||datum.value==186.75||datum.value==250.25", "value": "#9a9a9a"}, "value": "#cfcfcf"},
                 "labelExpr": "datum.value==20.5?'ноя':datum.value==62.75?'янв 2012':datum.value==103?'мар':datum.value==123.5?'апр 2012':datum.value==144.5?'май':datum.value==186.75?'июл 2012':datum.value==230.75?'сен':datum.value==250.25?'окт 2012':'ноя'",
                 "labelFontWeight": {"condition": {"test": "datum.value==62.75||datum.value==123.5||datum.value==186.75||datum.value==250.25", "value": "bold"}, "value": "normal"},
                 "labelFontSize": {"condition": {"test": "datum.value==62.75||datum.value==123.5||datum.value==186.75||datum.value==250.25", "value": 10.5}, "value": 9},
                 "labelColor": "#222", "labelPadding": 1, "labelOverlap": false, "labelFlush": false, "labelBound": false}},
  "y": {"field": "l", "type": "quantitative", "scale": {"domain": [117.4, 192.4], "nice": false, "zero": false},
        "axis": {"title": null, "orient": "right", "values": [120, 135, 150, 165, 180], "labelExpr": "datum.value==135?'':datum.label", "grid": true, "gridColor": "#cfcfcf", "domainColor": "#000", "tickColor": "#000", "tickSize": 5, "labelPadding": 2, "labelFontSize": 10.5, "labelColor": "#111"}},
  "y2": {"field": "h"}}},
{"mark": {"type": "bar", "size": 2, "stroke": "#000", "strokeWidth": 1, "clip": true},
 "encoding": {
  "x": {"field": "i", "type": "quantitative"},
  "y": {"field": "o", "type": "quantitative"},
  "y2": {"field": "c"},
  "fill": {"condition": {"test": "datum.c < datum.o", "value": "#000"}, "value": "#fff"}}},
{"data": {"values": [{"i": -0.5, "v": 133.7}, {"i": 296.125, "v": 133.7}]},
 "mark": {"type": "line", "color": "#1c22cc", "strokeWidth": 2.5, "clip": true},
 "encoding": {"x": {"field": "i", "type": "quantitative"}, "y": {"field": "v", "type": "quantitative"}}},
{"data": {"values": [{"i": 238.625, "v": 172.2}, {"i": 295.8, "v": 136.7}]},
 "mark": {"type": "line", "color": "#5e5ee0", "strokeWidth": 1.5},
 "encoding": {"x": {"field": "i", "type": "quantitative"}, "y": {"field": "v", "type": "quantitative"}}},
{"data": {"values": [{}]}, "mark": {"type": "rect", "color": "#dedede", "opacity": 0.8}, "encoding": {"x": {"value": 7}, "x2": {"value": 203}, "y": {"value": 4}, "y2": {"value": 21}}},
{"data": {"values": [{}]}, "mark": {"type": "text", "text": "■", "fontSize": 12, "align": "left", "baseline": "middle", "color": "#000"}, "encoding": {"x": {"value": 10}, "y": {"value": 12.5}}},
{"data": {"values": [{}]}, "mark": {"type": "text", "text": "ГАЗПРОМ ао (138,67) - День", "fontSize": 11, "align": "left", "baseline": "middle", "color": "#222"}, "encoding": {"x": {"value": 24}, "y": {"value": 12.5}}},
{"data": {"values": [{}]}, "mark": {"type": "text", "text": "∨", "fontSize": 12, "align": "left", "baseline": "middle", "color": "#f4f4f4"}, "encoding": {"x": {"value": 184}, "y": {"value": 12}}},
{"data": {"values": [{"t": "-138,67", "v": 135.55}]},
 "mark": {"type": "point", "shape": "M-1,-0.21H1V0.21H-1Z", "filled": true, "size": 3364, "color": "#f2846e", "opacity": 1},
 "encoding": {"x": {"value": 1218}, "y": {"field": "v", "type": "quantitative"}}},
{"data": {"values": [{"t": "-138,67", "v": 135.55}]},
 "mark": {"type": "text", "fontSize": 10.5, "align": "left", "baseline": "middle", "color": "#111"},
 "encoding": {"x": {"value": 1190}, "y": {"field": "v", "type": "quantitative"}, "text": {"field": "t"}}},
{"data": {"values": [{}]}, "mark": {"type": "text", "text": "⤒", "fontSize": 11, "align": "center", "baseline": "middle", "color": "#222"}, "encoding": {"x": {"value": 1222}, "y": {"value": 7}}},
{"data": {"values": [{}]}, "mark": {"type": "text", "text": "⛶", "fontSize": 10, "align": "center", "baseline": "middle", "color": "#555"}, "encoding": {"x": {"value": 1237}, "y": {"value": 7}}}
]
},
{
"width": 1248, "height": 30,
"view": {"fill": "#404040", "stroke": null},
"data": {"values": [{}]},
"layer": [
{"mark": {"type": "text", "text": "Элитный Трейдер, ELITETRADER.RU", "fontSize": 13, "align": "left", "baseline": "middle", "color": "#e6e6e6"}, "encoding": {"x": {"value": 10}, "y": {"value": 14}}},
{"mark": {"type": "text", "text": "⬆", "fontSize": 15, "align": "center", "baseline": "middle", "color": "#7cc242"}, "encoding": {"x": {"value": 1131}, "y": {"value": 13}}},
{"mark": {"type": "text", "text": "clip", "fontSize": 16, "font": "Liberation Sans", "align": "left", "baseline": "middle", "color": "#ffffff"}, "encoding": {"x": {"value": 1142}, "y": {"value": 14}}},
{"mark": {"type": "point", "shape": "circle", "filled": true, "size": 180, "color": "#f39a1e", "opacity": 1}, "encoding": {"x": {"value": 1172}, "y": {"value": 14}}},
{"mark": {"type": "text", "text": "2", "fontSize": 12, "font": "Liberation Sans", "fontWeight": "bold", "align": "center", "baseline": "middle", "color": "#ffffff"}, "encoding": {"x": {"value": 1172}, "y": {"value": 14}}},
{"mark": {"type": "text", "text": "net", "fontSize": 16, "font": "Liberation Sans", "align": "left", "baseline": "middle", "color": "#ffffff"}, "encoding": {"x": {"value": 1180}, "y": {"value": 14}}},
{"mark": {"type": "text", "text": ".com", "fontSize": 16, "font": "Liberation Sans", "align": "left", "baseline": "middle", "color": "#b4b4b4"}, "encoding": {"x": {"value": 1202}, "y": {"value": 14}}}
]
}
]
}
